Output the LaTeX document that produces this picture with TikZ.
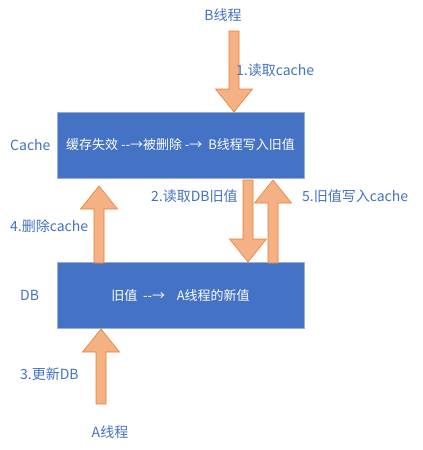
\documentclass[tikz,border=0pt]{standalone}
\usepackage{fontspec}
\setmainfont{Noto Sans CJK SC}
\definecolor{boxblue}{HTML}{4472C4}
\definecolor{boxedge}{HTML}{9DAFCF}
\definecolor{arrfill}{HTML}{F4B183}
\definecolor{arredge}{HTML}{ED7D31}
\definecolor{txtblue}{HTML}{4472C4}
\tikzset{
  box/.style={draw=boxedge, line width=0.8pt, fill=boxblue, minimum width=247pt, minimum height=66pt, inner sep=0pt, text=white, font=\fontsize{13}{15}\selectfont},
  lbl/.style={text=txtblue, font=\fontsize{14}{16}\selectfont, inner sep=0pt},
  arr/.style={draw=arredge, line width=0.6pt, fill=arrfill, line join=miter}
}
\newcommand\barrow[4]{%
  \pgfmathsetmacro\ba{#1-5}\pgfmathsetmacro\bb{#1+5}%
  \pgfmathsetmacro\bc{#1-18.5}\pgfmathsetmacro\bd{#1+18.5}%
  \pgfmathsetmacro\be{#2-#4*23}%
  \draw[arr] (\ba,#3) -- (\ba,\be) -- (\bc,\be) -- (#1,#2)
    -- (\bd,\be) -- (\bb,\be) -- (\bb,#3) -- cycle;}
\begin{document}
\begin{tikzpicture}[x=1pt,y=-1pt]
\useasboundingbox[fill=white] (0,0) rectangle (423,450);
\node[box] (cache) at (180.5,145) {缓存失效 -{}-→被删除 -→\ \ B线程写入旧值};
\node[box] (db) at (180.5,295.5) {旧值\ \ -{}-→\ \ \ \ A线程的新值};
\node[lbl, anchor=west] (cachelbl) at (10,145) {Cache};
\node[lbl, anchor=west] (dblbl) at (20,295) {DB};
\node[lbl] (bthread) at (223,15) {B线程};
\node[lbl] (athread) at (110,432) {A线程};
% arrows
\barrow{234}{112}{31}{1}
\barrow{248}{262}{180}{1}
\barrow{101}{329}{404}{-1}
\barrow{99}{186}{263}{-1}
\barrow{273}{180}{263}{-1}
\node[lbl, anchor=west] (l1) at (236,70) {1.读取cache};
\node[lbl, anchor=west] (l2) at (151,196) {2.读取DB旧值};
\node[lbl, anchor=west] (l5) at (302,196) {5.旧值写入cache};
\node[lbl, anchor=west] (l4) at (10,226) {4.删除cache};
\node[lbl, anchor=west] (l3) at (20,374) {3.更新DB};
\end{tikzpicture}
\end{document}
